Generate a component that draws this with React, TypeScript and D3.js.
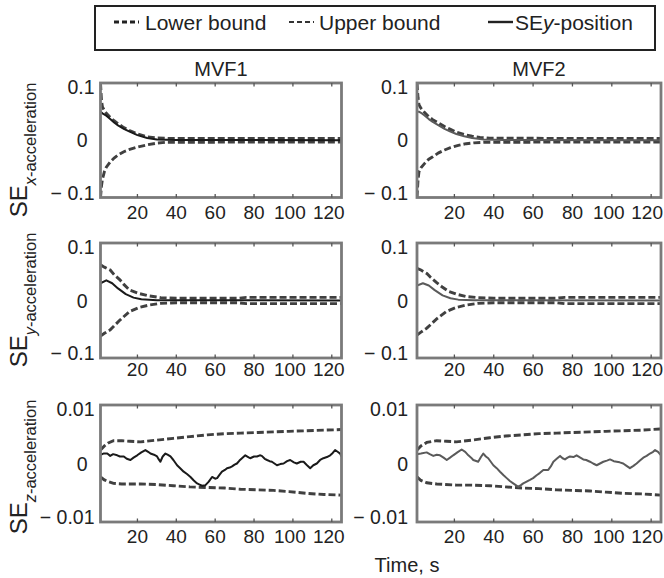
import React from "react";
import * as d3 from "d3";

type Pt = [number, number];

// ---------- tick values / labels ----------
const xTicks = [20, 40, 60, 80, 100, 120];
const yTicksAcc = [-0.1, 0, 0.1];
const yTickLabelsAcc = ["\u2212 0.1", "0", "0.1"];
const yTicksZ = [-0.01, 0, 0.01];
const yTickLabelsZ = ["\u2212 0.01", "0", "0.01"];
const columnTitles = ["MVF1", "MVF2"];

// ---------- row 1: x-acceleration ----------
const xAccMVF1Upper: Pt[] = [[1,0.1],[1.5,0.07],[2,0.058],[3,0.052],[4,0.047],[6,0.04],[8,0.034],[10,0.029],[13,0.022],[16,0.017],[20,0.011],[25,0.006],[30,0.004],[35,0.0033],[125,0.003]];
const xAccMVF1Lower: Pt[] = [[1,-0.1],[1.5,-0.08],[2,-0.068],[3,-0.055],[4,-0.047],[6,-0.038],[8,-0.031],[10,-0.026],[13,-0.02],[16,-0.016],[20,-0.012],[25,-0.008],[30,-0.005],[35,-0.0035],[125,-0.003]];
const xAccMVF1SE: Pt[] = [[1,0.05],[2,0.047],[4,0.043],[6,0.037],[8,0.031],[10,0.026],[13,0.02],[16,0.015],[20,0.009],[25,0.004],[30,0.0015],[40,0.0004],[125,0.0002]];

const xAccMVF2Upper: Pt[] = [[1,0.1],[1.5,0.075],[2,0.062],[3,0.056],[5,0.048],[7,0.041],[9,0.036],[12,0.03],[15,0.024],[18,0.019],[21,0.014],[25,0.01],[29,0.007],[33,0.005],[38,0.0035],[125,0.003]];
const xAccMVF2Lower: Pt[] = [[1,-0.1],[1.5,-0.07],[2,-0.055],[3,-0.048],[5,-0.04],[7,-0.033],[9,-0.029],[12,-0.022],[15,-0.017],[18,-0.013],[22,-0.009],[26,-0.006],[30,-0.0045],[35,-0.0035],[125,-0.003]];
const xAccMVF2SE: Pt[] = [[1,0.05],[2,0.05],[3,0.048],[5,0.043],[7,0.037],[9,0.032],[12,0.026],[15,0.02],[18,0.015],[21,0.011],[25,0.007],[29,0.004],[35,0.0015],[45,0.0004],[125,0.0002]];

// ---------- row 2: y-acceleration ----------
const yAccMVF1Upper: Pt[] = [[1,0.062],[3,0.058],[6,0.053],[8,0.045],[11,0.036],[13,0.028],[16,0.018],[21,0.012],[26,0.008],[32,0.005],[40,0.004],[72,0.004],[76,0.0055],[125,0.0055]];
const yAccMVF1Lower: Pt[] = [[1,-0.062],[3,-0.057],[6,-0.051],[11,-0.034],[16,-0.019],[21,-0.012],[26,-0.008],[32,-0.005],[40,-0.004],[72,-0.004],[76,-0.0055],[125,-0.0055]];
const yAccMVF1SE: Pt[] = [[1,0.03],[4,0.035],[7,0.03],[10,0.021],[14,0.011],[18,0.005],[22,0.002],[30,0.0005],[125,0]];

const yAccMVF2Upper: Pt[] = [[1,0.056],[3,0.053],[6,0.047],[8,0.04],[11,0.031],[14,0.023],[17,0.016],[21,0.011],[26,0.007],[32,0.005],[40,0.004],[72,0.004],[76,0.0055],[125,0.0055]];
const yAccMVF2Lower: Pt[] = [[1,-0.06],[3,-0.055],[6,-0.048],[11,-0.032],[16,-0.019],[21,-0.012],[26,-0.008],[32,-0.005],[40,-0.004],[72,-0.004],[76,-0.0055],[125,-0.0055]];
const yAccMVF2SE: Pt[] = [[1,0.026],[4,0.03],[7,0.026],[10,0.018],[14,0.009],[18,0.004],[22,0.0015],[30,0.0004],[125,0]];

// ---------- row 3: z-acceleration ----------
const zAccMVF1Upper: Pt[] = [[1,0.0023],[3,0.003],[5,0.0035],[7.7,0.0039],[12,0.0039],[16,0.0038],[21.6,0.0037],[30,0.004],[38.5,0.0043],[47,0.0046],[56,0.0049],[65,0.0051],[73,0.0052],[82,0.0053],[90,0.0054],[98,0.0055],[107,0.0056],[116,0.0057],[125,0.0058]];
const zAccMVF1Lower: Pt[] = [[1,-0.0023],[3,-0.0028],[5,-0.0031],[7.7,-0.0034],[12,-0.0035],[21.6,-0.0035],[30,-0.0036],[38.5,-0.0038],[47,-0.004],[56,-0.0041],[65,-0.0042],[73,-0.0044],[82,-0.0045],[90,-0.0046],[98,-0.0048],[107,-0.0051],[116,-0.0053],[125,-0.0054]];
const zAccMVF1SE: Pt[] = [[1,0.0015],[2.5,0.0017],[4.5,0.0017],[6,0.0013],[7.5,0.0016],[9.6,0.0014],[11,0.0012],[13,0.0012],[14.5,0.0008],[16.4,0.0006],[18,0.001],[19.9,0.0014],[22,0.0019],[24.1,0.0023],[25.5,0.002],[26.7,0.0017],[28.5,0.0015],[30.1,0.0012],[31,0.0007],[31.8,0.0003],[33,0.0012],[34.4,0.0017],[35.5,0.0015],[37,0.0012],[38.5,0.0006],[40.4,-0.0003],[42,-0.0008],[43.8,-0.0014],[45.5,-0.0018],[47.3,-0.0023],[49,-0.0029],[50.7,-0.0034],[52,-0.0036],[53.3,-0.0038],[55,-0.0037],[56.7,-0.0031],[58.4,-0.0023],[60,-0.0026],[61,-0.0025],[62.3,-0.0019],[63.5,-0.0014],[65,-0.0011],[66.1,-0.0008],[67.5,-0.0007],[68.7,-0.0005],[70,-0.0002],[71.2,0],[72.5,0.0005],[73.8,0.0009],[75.5,0.0014],[77,0.0011],[78,0.0009],[80,0.0012],[81.5,0.0012],[83,0.0014],[84,0.0013],[85.5,0.0008],[86.7,0.0006],[88,0.0004],[89.2,0.0003],[90.5,0],[91.8,-0.0003],[93.5,-0.0001],[95.2,0],[97,0.0004],[98.6,0.0006],[100.5,0.0002],[102,0],[104,0.0003],[105.5,0.0003],[107,-0.0002],[108.9,-0.0008],[110.5,-0.0003],[112.3,0],[114,0.0006],[115.7,0.0009],[117.5,0.0011],[119.2,0.0014],[120.5,0.0018],[121.7,0.0023],[123,0.002],[124.3,0.0017],[125,0.0012]];

const zAccMVF2Upper: Pt[] = [[1,0.0023],[3,0.003],[6,0.0036],[11,0.0039],[16,0.0038],[21,0.0037],[29,0.004],[38,0.0044],[46,0.0047],[55,0.0049],[63,0.0051],[72,0.0052],[80,0.0053],[89,0.0054],[97,0.0055],[106,0.0056],[115,0.0057],[124.5,0.0059],[125,0.0059]];
const zAccMVF2Lower: Pt[] = [[1,-0.0023],[3,-0.0029],[6,-0.0033],[11,-0.0035],[21,-0.0037],[29,-0.0037],[38,-0.0038],[46,-0.004],[55,-0.0042],[63,-0.0043],[72,-0.0045],[80,-0.0046],[89,-0.0047],[97,-0.0049],[106,-0.0051],[115,-0.0052],[125,-0.0054]];
const zAccMVF2SE: Pt[] = [[1,0.0016],[3,0.0017],[5.9,0.0019],[7.5,0.0016],[9.3,0.0013],[11,0.0015],[12.7,0.0014],[14.5,0.001],[16.1,0.0006],[17.8,0.001],[19.4,0.0014],[21.5,0.0019],[23.7,0.0024],[25.5,0.002],[27.1,0.0014],[28.5,0.001],[29.6,0.0006],[32.1,0.0003],[33.5,0.0011],[34.7,0.0017],[36,0.0012],[37.2,0.0009],[38.5,0.0003],[39.8,-0.0003],[41.5,-0.0008],[43.2,-0.0014],[45,-0.002],[46.6,-0.0025],[48.2,-0.003],[49.9,-0.0034],[51.2,-0.0037],[52.5,-0.004],[53.8,-0.0037],[55,-0.0034],[56.7,-0.0031],[58.4,-0.0028],[60,-0.0025],[61.8,-0.002],[63.5,-0.0016],[65.2,-0.0011],[67.7,-0.0011],[69,-0.0005],[70.3,0.0003],[72,0.0008],[73.7,0.0013],[75,0.0009],[76.2,0.0007],[77.5,0.001],[78.7,0.0012],[80.5,0.0011],[82.1,0.0014],[84,0.001],[85.5,0.0007],[87,0.0006],[88.9,0.0003],[90.5,0],[92.3,-0.0003],[94,0],[95.7,0.0003],[97.5,0.0005],[99.1,0.0007],[101,0.0004],[102.5,0.0003],[104,0.0002],[105.8,0],[107.5,-0.0004],[109.2,-0.0008],[111,-0.0004],[112.6,0],[114.3,0.0005],[116,0.001],[117.7,0.0013],[119.4,0.0017],[121,0.002],[122,0.0023],[123.5,0.002],[125,0.0014]];

// ---------- layout ----------
const W = 664;
const H = 578;
const FONT = "'Liberation Sans', Arial, Helvetica, sans-serif";
const TICK_FS = 19;
const colX = [100.5, 417];
const colW = [241, 244];
const rowY = [83, 243, 405];
const rowH = [114.5, 115, 117];
const rowXLabelOffset = [14.5, 11, 14];
const rowYLabelCenter = [150, 300, 467];
const rowSub = ["x", "y", "z"];

interface PanelProps {
  id: string;
  x0: number;
  y0: number;
  w: number;
  h: number;
  col: number;
  row: number;
  ticks: number[];
  tickLabels: string[];
  upper: Pt[];
  lower: Pt[];
  se: Pt[];
  seColor: string;
}

function Panel(p: PanelProps) {
  const m = p.ticks[p.ticks.length - 1];
  const x = d3.scaleLinear().domain([1, 125]).range([p.x0, p.x0 + p.w]);
  const y = d3.scaleLinear().domain([-m, m]).range([p.y0 + p.h, p.y0]);
  const line = d3
    .line<Pt>()
    .x((d) => x(d[0]))
    .y((d) => y(d[1]));
  const labelGap = p.col === 0 ? 6 : 9;
  const zeroExtra = p.col === 0 ? 7 : 0;
  const labelX = (t: number) => {
    const half = (String(t).length * 0.556 * TICK_FS) / 2;
    return Math.min(x(t) - (t >= 100 ? 3 : 0), W - 1 - half);
  };
  return (
    <g>
      <defs>
        <clipPath id={p.id}>
          <rect x={p.x0} y={p.y0} width={p.w} height={p.h} />
        </clipPath>
      </defs>
      <g clipPath={`url(#${p.id})`} fill="none">
        <path d={line(p.upper) || ""} stroke="#404040" strokeWidth={2.9} strokeDasharray="7 3" />
        <path d={line(p.lower) || ""} stroke="#404040" strokeWidth={2.9} strokeDasharray="7 3" />
        <path d={line(p.se) || ""} stroke={p.seColor} strokeWidth={2} strokeLinejoin="round" />
      </g>
      <rect x={p.x0} y={p.y0} width={p.w} height={p.h} fill="none" stroke="#7a7a7a" strokeWidth={2.8} />
      {xTicks.map((t) => (
        <g key={t}>
          <line x1={x(t)} x2={x(t)} y1={p.y0} y2={p.y0 + 3.5} stroke="#555" strokeWidth={1.3} />
          <line x1={x(t)} x2={x(t)} y1={p.y0 + p.h} y2={p.y0 + p.h - 3.5} stroke="#555" strokeWidth={1.3} />
          <text
            x={labelX(t)}
            y={p.y0 + p.h + rowXLabelOffset[p.row]}
            textAnchor="middle"
            dominantBaseline="central"
            fontSize={TICK_FS}
            fill="#222"
          >
            {t}
          </text>
        </g>
      ))}
      {p.ticks.map((v, i) => (
        <text
          key={v}
          x={p.x0 - labelGap - (v === 0 ? zeroExtra : 0)}
          y={y(v) + (v > 0 ? 4 : v < 0 ? -5 : 0)}
          textAnchor="end"
          dominantBaseline="central"
          fontSize={19.5}
          fill="#222"
        >
          {p.tickLabels[i]}
        </text>
      ))}
    </g>
  );
}

export default function App() {
  const rows = [
    { ticks: yTicksAcc, labels: yTickLabelsAcc, data: [[xAccMVF1Upper, xAccMVF1Lower, xAccMVF1SE], [xAccMVF2Upper, xAccMVF2Lower, xAccMVF2SE]] },
    { ticks: yTicksAcc, labels: yTickLabelsAcc, data: [[yAccMVF1Upper, yAccMVF1Lower, yAccMVF1SE], [yAccMVF2Upper, yAccMVF2Lower, yAccMVF2SE]] },
    { ticks: yTicksZ, labels: yTickLabelsZ, data: [[zAccMVF1Upper, zAccMVF1Lower, zAccMVF1SE], [zAccMVF2Upper, zAccMVF2Lower, zAccMVF2SE]] },
  ];
  const seColors = ["#1a1a1a", "#5a5a5a"];
  return (
    <svg
      width={W}
      height={H}
      viewBox={`0 0 ${W} ${H}`}
      style={{ position: "absolute", left: 0, top: 0, background: "#fff" }}
      fontFamily={FONT}
    >
      <rect x={0} y={0} width={W} height={H} fill="#fff" />
      {/* legend */}
      <rect x={95} y={6} width={560} height={44} fill="none" stroke="#222" strokeWidth={2} />
      <line x1={114} x2={139} y1={22} y2={22} stroke="#222" strokeWidth={3} strokeDasharray="5 3" />
      <text x={145} y={22} dominantBaseline="central" fontSize={21} fill="#222">Lower bound</text>
      <line x1={289} x2={314} y1={22} y2={22} stroke="#333" strokeWidth={1.8} strokeDasharray="5 3" />
      <text x={319} y={22} dominantBaseline="central" fontSize={21} fill="#222">Upper bound</text>
      <line x1={488} x2={513} y1={22} y2={22} stroke="#222" strokeWidth={2.4} />
      <text x={515} y={22} dominantBaseline="central" fontSize={21} fill="#222">
        SE<tspan fontStyle="italic">y</tspan>-position
      </text>

      {columnTitles.map((t, c) => (
        <text key={t} x={colX[c] + colW[c] / 2} y={69} textAnchor="middle" dominantBaseline="central" fontSize={20} fill="#222">
          {t}
        </text>
      ))}

      {rows.map((r, ri) =>
        r.data.map((d, ci) => (
          <Panel
            key={`${ri}-${ci}`}
            id={`clip-${ri}-${ci}`}
            x0={colX[ci]}
            y0={rowY[ri]}
            w={colW[ci]}
            h={rowH[ri]}
            col={ci}
            row={ri}
            ticks={r.ticks}
            tickLabels={r.labels}
            upper={d[0]}
            lower={d[1]}
            se={d[2]}
            seColor={seColors[ci]}
          />
        ))
      )}

      {rowSub.map((s, i) => (
        <text key={s} transform={`translate(27, ${rowYLabelCenter[i]}) rotate(-90)`} textAnchor="middle" fill="#222">
          <tspan fontSize={24}>SE</tspan>
          <tspan fontSize={16.5} dy={9} fontStyle="italic">{s}</tspan>
          <tspan fontSize={16.5}>-acceleration</tspan>
        </text>
      ))}

      <text x={407} y={565} textAnchor="middle" dominantBaseline="central" fontSize={20} fill="#222">
        Time, s
      </text>
    </svg>
  );
}
